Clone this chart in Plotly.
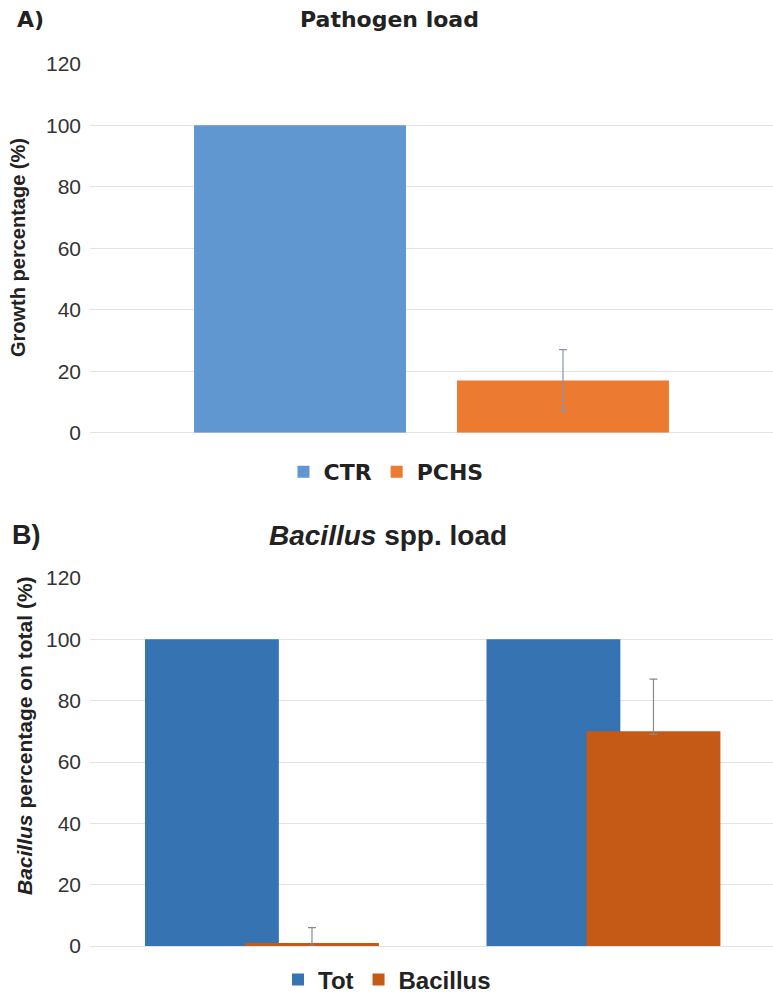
import plotly.graph_objects as go

# Panel A data
a_series = ["CTR", "PCHS"]
a_values = [100, 17]
a_err = [0, 10]
a_colors = ["#6097d0", "#ec7a30"]

# Panel B data
b_groups = ["G1", "G2"]
b_tot = [100, 100]
b_bac = [1, 70]
b_bac_err_plus = [5, 17]
b_bac_err_minus = [1, 1]

y_ticks = [0, 20, 40, 60, 80, 100, 120]

W, H = 773, 997
def px_x(p): return p / W
def px_y(p): return 1 - p / H

SANS = "Liberation Sans, Arial, sans-serif"
WIDE = "DejaVu Sans, Verdana, sans-serif"

fig = go.Figure()

# Panel A: grouped bars within one category
for name, val, err, col in zip(a_series, a_values, a_err, a_colors):
    fig.add_trace(go.Bar(
        x=[""], y=[val], name=name, marker=dict(color=col, line=dict(width=0)),
        error_y=dict(type="data", array=[err], visible=err > 0, color="#8595ad", thickness=1.2, width=4),
        xaxis="x", yaxis="y", legend="legend",
    ))

# Panel B: overlapping bars
fig.add_trace(go.Bar(
    x=[0, 1], y=b_tot, name="Tot", width=0.392, offset=-0.339,
    marker=dict(color="#3673b3", line=dict(width=0)),
    xaxis="x2", yaxis="y2", legend="legend2",
))
fig.add_trace(go.Bar(
    x=[0, 1], y=b_bac, name="Bacillus", width=0.392, offset=-0.046,
    marker=dict(color="#c55a16", line=dict(width=0)),
    error_y=dict(type="data", array=b_bac_err_plus, arrayminus=b_bac_err_minus,
                 color="#8a8a8a", thickness=1.2, width=4),
    xaxis="x2", yaxis="y2", legend="legend2",
))

grid = "#e3e3e3"
fig.update_layout(
    width=W, height=H,
    margin=dict(l=0, r=0, t=0, b=0, autoexpand=False),
    paper_bgcolor="white", plot_bgcolor="white",
    barmode="group", bargap=0.23, bargroupgap=0.194,
    font=dict(family=SANS, color="#222"),
    xaxis=dict(domain=[px_x(90), 1], showticklabels=False, showgrid=False,
               zeroline=False, showline=False, ticks=""),
    yaxis=dict(domain=[px_y(432.7), px_y(63.7)], range=[0, 120], tickvals=y_ticks,
               showgrid=True, gridcolor=grid, gridwidth=1, zeroline=True,
               zerolinecolor=grid, zerolinewidth=1, showline=False,
               ticks="", ticklabelstandoff=8,
               tickfont=dict(size=21, family=SANS, color="#333")),
    xaxis2=dict(domain=[px_x(90), 1], range=[-0.5, 1.5], showticklabels=False,
                showgrid=False, zeroline=False, showline=False, ticks=""),
    yaxis2=dict(domain=[px_y(946), px_y(578)], range=[0, 120], tickvals=y_ticks,
                showgrid=True, gridcolor=grid, gridwidth=1, zeroline=True,
                zerolinecolor=grid, zerolinewidth=1, showline=False,
                ticks="", ticklabelstandoff=8,
                tickfont=dict(size=21, family=SANS, color="#333")),
    legend=dict(orientation="h", x=px_x(386), xanchor="center", y=px_y(472), yanchor="middle",
                font=dict(size=22, family=WIDE, color="#222", weight="bold"),
                traceorder="normal", bgcolor="rgba(0,0,0,0)"),
    legend2=dict(orientation="h", x=px_x(387), xanchor="center", y=px_y(980), yanchor="middle",
                 font=dict(size=24, family=SANS, color="#222", weight="bold"),
                 traceorder="normal", bgcolor="rgba(0,0,0,0)"),
    showlegend=True,
)

ann = [
    dict(text="<b>A)</b>", x=px_x(15), y=px_y(19), xanchor="left", yanchor="middle",
         font=dict(size=22, family=WIDE)),
    dict(text="<b>Pathogen load</b>", x=px_x(390), y=px_y(19), xanchor="center", yanchor="middle",
         font=dict(size=22, family=WIDE)),
    dict(text="<b>Growth percentage (%)</b>", x=px_x(18), y=px_y(248), textangle=-90,
         xanchor="center", yanchor="middle", font=dict(size=20, family=SANS)),
    dict(text="<b>B)</b>", x=px_x(10), y=px_y(535), xanchor="left", yanchor="middle",
         font=dict(size=27, family=SANS)),
    dict(text="<b><i>Bacillus</i> spp. load</b>", x=px_x(388), y=px_y(535), xanchor="center",
         yanchor="middle", font=dict(size=28, family=SANS)),
    dict(text="<b><i>Bacillus</i> percentage on total (%)</b>", x=px_x(24), y=px_y(736),
         textangle=-90, xanchor="center", yanchor="middle", font=dict(size=21, family=SANS)),
]
for a in ann:
    a.update(xref="paper", yref="paper", showarrow=False)
fig.update_layout(annotations=ann)

fig.write_html("out.html")
